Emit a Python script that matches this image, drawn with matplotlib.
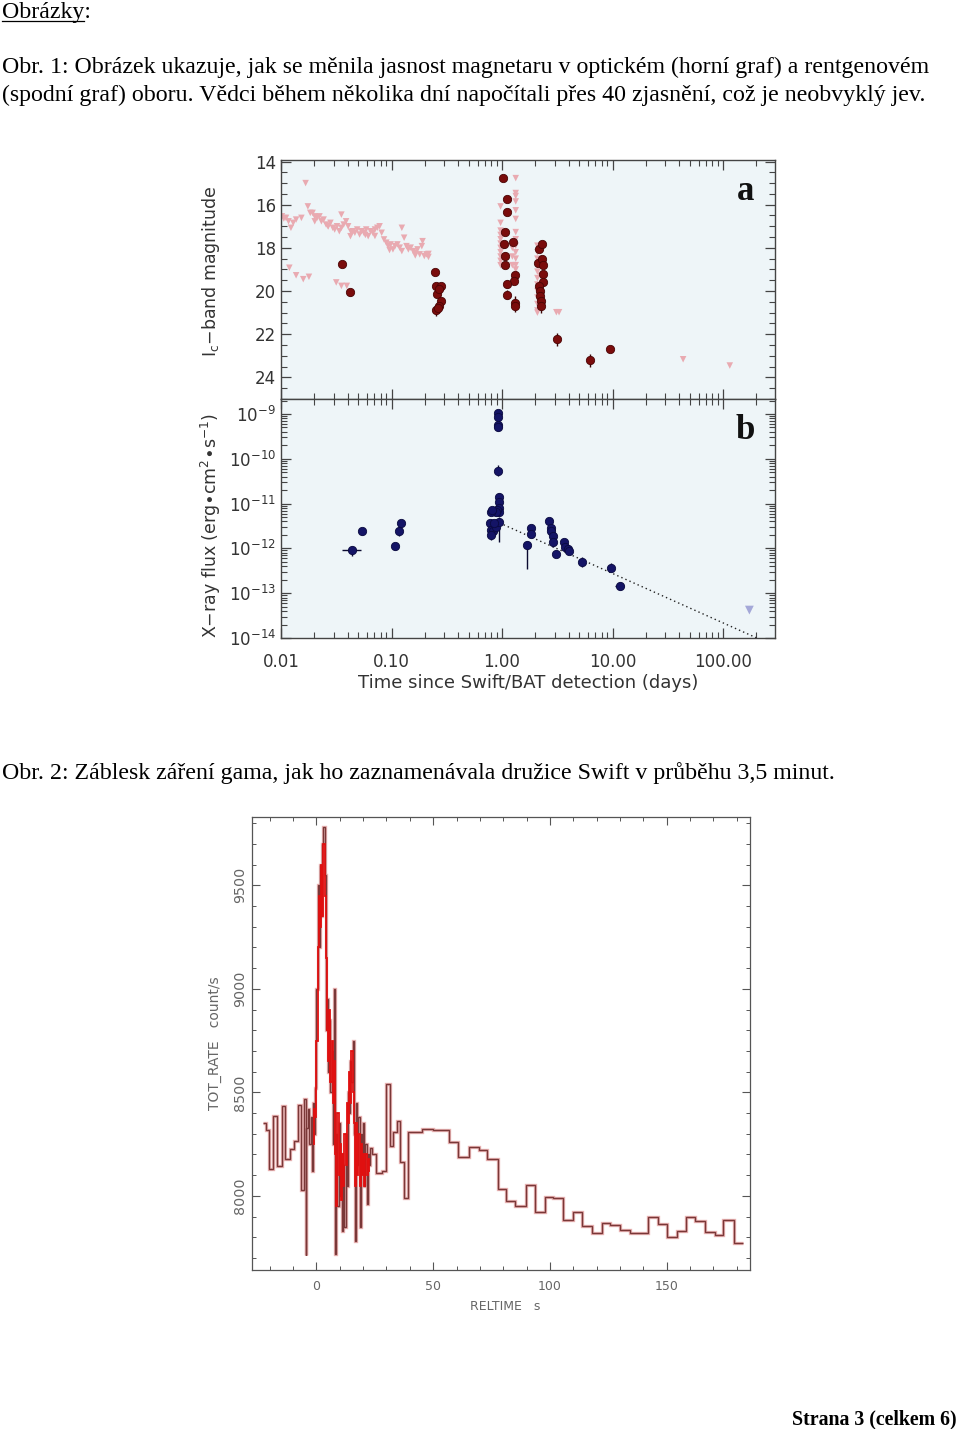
import matplotlib
matplotlib.use("Agg")
import matplotlib.pyplot as plt
import numpy as np
from matplotlib.lines import Line2D
from matplotlib.ticker import (LogLocator, FixedLocator, MultipleLocator,
                               NullFormatter, FixedFormatter)

# ---------------- DATA ----------------
# Panel a: optical detections (days, Ic magnitude, error)
det_t = [0.0357, 0.0417, 0.248, 0.252, 0.282, 0.260, 0.270, 0.282, 0.270, 0.252, 0.262,
         1.01, 1.12, 1.11, 1.06, 1.26, 1.05, 1.06, 1.06, 1.32, 1.29, 1.11, 1.11, 1.30, 1.30,
         2.16, 2.32, 2.13, 2.29, 2.33, 2.33, 2.35, 2.18, 2.22, 2.21, 2.25, 2.27,
         3.13, 6.21, 9.55]
det_mag = [18.74, 20.06, 19.14, 19.76, 19.78, 20.14, 19.90, 20.45, 20.68, 20.90, 20.80,
           14.77, 15.74, 16.35, 17.27, 17.73, 17.84, 18.38, 18.79, 19.26, 19.53, 19.68, 20.17, 20.55, 20.70,
           18.04, 17.81, 18.68, 18.50, 18.78, 19.22, 19.60, 19.76, 19.99, 20.22, 20.48, 20.70,
           22.24, 23.20, 22.68]
det_err = [0.12, 0.15, 0.12, 0.15, 0.12, 0.15, 0.15, 0.15, 0.15, 0.25, 0.2,
           0.1, 0.12, 0.12, 0.12, 0.12, 0.15, 0.2, 0.15, 0.15, 0.15, 0.2, 0.2, 0.3, 0.25,
           0.15, 0.12, 0.15, 0.12, 0.15, 0.15, 0.15, 0.15, 0.15, 0.2, 0.2, 0.3,
           0.3, 0.3, 0.1]

# Panel a: optical upper limits (days, magnitude)
lim_t = [0.0102, 0.0106, 0.0111, 0.0117, 0.0123, 0.0129, 0.0137, 0.0153, 0.0167, 0.0175,
         0.0184, 0.0193, 0.0202, 0.0212, 0.0223, 0.0232, 0.0243, 0.0256, 0.0267, 0.0280,
         0.0294, 0.0306, 0.0321, 0.0337, 0.0352, 0.0352, 0.0369, 0.0388, 0.0405, 0.0425,
         0.0447, 0.0466, 0.0489, 0.0514, 0.0535, 0.0562, 0.0590, 0.0615, 0.0646, 0.0678,
         0.0708, 0.0743, 0.0780, 0.0814, 0.0855, 0.0897, 0.0936, 0.0983, 0.1030, 0.1076,
         0.1130, 0.1186, 0.1240, 0.1300, 0.1365, 0.1420, 0.1490, 0.1570, 0.1640, 0.1720,
         0.1800, 0.1880, 0.1910, 0.1980, 0.2070, 0.2160,
         0.0202, 0.0267, 0.0430, 0.0580, 0.0708, 0.0960, 0.1240, 0.1640, 0.2160,
         0.0119, 0.0137, 0.0159, 0.0179, 0.0316, 0.0352, 0.0394,
         0.97, 0.97, 0.97, 0.97, 0.97, 0.97, 0.97, 0.97, 0.97, 0.97, 0.97,
         1.33, 1.33, 1.33, 1.33, 1.33, 1.33, 1.33, 1.33, 1.33, 1.33, 1.33, 1.33, 1.33,
         1.24, 1.24, 1.24,
         2.09, 2.09, 2.09, 2.09, 2.09, 2.09, 2.09, 2.09, 2.09, 2.09, 2.09, 2.09,
         2.24, 2.24, 2.24, 2.24, 2.24,
         3.10, 3.28, 43.5, 115.0]
lim_mag = [16.54, 16.64, 16.61, 16.77, 17.07, 16.84, 16.69, 16.61, 15.00, 16.08,
           16.38, 16.38, 16.54, 16.61, 16.54, 16.77, 16.69, 16.92, 17.00, 16.84,
           17.07, 17.15, 17.00, 17.23, 16.46, 17.07, 16.92, 16.77, 17.00, 17.46,
           17.23, 17.30, 17.15, 17.38, 17.23, 17.30, 17.15, 17.46, 17.23, 17.30,
           17.15, 17.07, 17.00, 17.30, 17.61, 17.76, 17.92, 17.84, 18.07, 17.92,
           17.84, 17.99, 17.07, 17.53, 17.92, 18.07, 17.99, 18.15, 18.22, 18.07,
           18.30, 17.92, 17.69, 18.38, 18.30, 18.42,
           16.77, 17.00, 17.25, 17.40, 17.45, 18.10, 18.15, 18.35, 18.28,
           18.92, 19.27, 19.45, 19.34, 19.60, 19.76, 19.76,
           16.08, 16.84, 17.20, 17.40, 17.60, 17.80, 18.00, 18.20, 18.40, 18.60, 18.80,
           14.77, 15.46, 15.60, 15.85, 16.26, 16.66, 17.27, 17.60, 17.90, 18.20, 18.50, 18.80, 19.00,
           18.00, 18.40, 18.80,
           17.90, 18.20, 18.50, 18.80, 19.10, 19.40, 19.70, 20.00, 20.30, 20.60, 20.90, 21.00,
           18.10, 18.70, 19.30, 19.90, 20.50,
           20.98, 20.98, 23.16, 23.45]

# Panel b: X-ray flux (days, erg cm^-2 s^-1, error in dex below / above)
xr_t = [0.0435, 0.0543, 0.1076, 0.117, 0.1227,
        0.916, 0.916, 0.916, 0.916, 0.922, 0.929, 0.935, 0.929, 0.942, 0.904, 0.873, 0.798,
        0.774, 0.798, 0.832, 0.798, 0.890, 0.935, 0.850, 0.812,
        1.69, 1.82, 1.82, 2.68, 2.76, 2.76, 2.92, 2.88, 3.09, 3.60, 3.73, 3.92, 4.06,
        5.25, 9.69, 11.6]
xr_f = [9.0e-13, 2.45e-12, 1.12e-12, 2.45e-12, 3.6e-12,
        1.05e-9, 8.7e-10, 5.7e-10, 5.0e-10, 5.4e-11, 1.4e-11, 1.07e-11, 8.1e-12, 6.5e-12, 7.2e-12, 6.6e-12, 6.6e-12,
        3.6e-12, 2.6e-12, 2.4e-12, 2.0e-12, 3.0e-12, 3.9e-12, 3.6e-12, 7.2e-12,
        1.17e-12, 2.8e-12, 2.1e-12, 4.0e-12, 2.8e-12, 2.4e-12, 1.86e-12, 1.38e-12, 7.6e-13, 1.38e-12, 1.07e-12, 9.5e-13, 8.7e-13,
        5.1e-13, 3.7e-13, 1.48e-13]
xr_dlo = [0.12, 0.08, 0.08, 0.12, 0.1,
          0.05, 0.05, 0.08, 0.08, 0.12, 0.12, 0.08, 0.08, 0.1, 0.08, 0.1, 0.08,
          0.08, 0.1, 0.1, 0.12, 0.08, 0.45, 0.1, 0.08,
          0.52, 0.08, 0.08, 0.06, 0.08, 0.08, 0.12, 0.1, 0.08, 0.06, 0.06, 0.06, 0.06,
          0.12, 0.1, 0.1]
xr_dhi = [0.1, 0.07, 0.07, 0.1, 0.08,
          0.04, 0.04, 0.06, 0.06, 0.12, 0.1, 0.06, 0.06, 0.08, 0.06, 0.08, 0.06,
          0.06, 0.08, 0.08, 0.08, 0.06, 0.1, 0.08, 0.06,
          0.1, 0.06, 0.06, 0.05, 0.06, 0.06, 0.1, 0.08, 0.08, 0.05, 0.05, 0.05, 0.05,
          0.1, 0.1, 0.08]
xr_tlo = [0.036, None, None, None, None] + [None] * 35 + [10.6]
xr_thi = [0.0525, None, None, None, None] + [None] * 35 + [12.8]
xr_lim_t = [173.0]
xr_lim_f = [4.2e-14]
decay_t = [0.95, 202.0]
decay_f = [3.7e-12, 1.0e-14]

# Panel 2: Swift/BAT light curve (s, count/s)
bat_edges = [-23.1, -21.4, -20.3, -18.6, -16.9, -14.7, -13.3, -11.4, -9.5, -8.1, -6.4, -5.4,
             -4.6, -4.3, -3.5, -3.0, -2.5, -2.0, -1.5, -1.0, -0.5, 0.0, 0.5, 1.0, 1.5, 2.0,
             2.5, 3.0, 3.5, 4.0, 4.5, 5.0, 5.5, 6.0, 6.5, 7.0, 7.5, 8.0, 8.5, 9.0, 9.5, 10.0,
             10.5, 11.0, 11.5, 12.0, 12.5, 13.0, 13.5, 14.0, 14.5, 15.0, 15.5, 16.0, 16.5,
             17.0, 17.5, 18.0, 18.5, 19.0, 19.5, 20.0, 20.5, 21.0, 21.5, 22.0, 22.5, 23.0,
             24.0, 25.7, 27.9, 30.0, 31.4, 33.0, 34.3, 35.7, 37.4, 39.3, 45.0, 50.0, 56.85,
             60.7, 65.4, 69.7, 72.85, 77.9, 81.4, 85.0, 89.6, 93.6, 97.9, 101.4, 105.7,
             110.0, 113.6, 117.9, 122.1, 125.7, 130.0, 134.3, 142.2, 146.4, 150.3, 154.3,
             158.3, 162.1, 166.4, 170.7, 174.3, 178.9, 182.9]
bat_rate = [8350, 8320, 8130, 8385, 8145, 8435, 8180, 8225, 8265, 8440, 8026,
            8470, 7715, 8330, 8420, 8250, 8380, 8120, 8450, 8300, 8520,
            9000, 9500, 9200, 9600, 9350, 9700, 9780, 9550, 8800, 8950,
            8600, 8850, 8500, 8700, 8250, 9000, 7720, 8300, 7950, 8350,
            8000, 8200, 7830, 8150, 7850, 8300, 8050, 8500, 8400, 8650,
            8550, 8750, 8300, 7780, 8450, 8150, 8380, 7850, 8300, 8200,
            8350, 8050, 8250, 7960, 8200, 8150, 8230, 8200, 8110, 8120,
            8540, 8240, 8310, 8360, 8165, 7990, 8309, 8325, 8317, 8262,
            8190, 8238, 8220, 8180, 8032, 7976, 7950, 8052, 7923, 7995,
            7992, 7883, 7923, 7854, 7819, 7870, 7859, 7837, 7819, 7896,
            7866, 7799, 7831, 7896, 7880, 7825, 7812, 7883, 7770]
red_edges = [-1.5, -1.0, -0.5, 0.0, 0.5, 1.0, 1.5, 2.0, 2.5, 3.0, 3.5, 4.0, 4.5, 5.0,
             5.5, 6.0, 6.5, 7.0, 7.5, 8.0, 8.5, 9.0, 9.5, 10.0, 10.5, 11.0, 11.5, 12.0,
             12.5, 13.0, 13.5, 14.0, 14.5, 15.0, 15.5, 16.0, 16.5, 17.0, 17.5, 18.0,
             18.5, 19.0, 19.5, 20.0, 20.5, 21.0, 21.5, 22.0, 22.5, 23.0]
red_rate = [8250, 8420, 8380, 8750, 9200, 9450, 9300, 9600, 9350, 9700, 9450, 9150,
            8800, 8650, 8900, 8550, 8750, 8450, 8650, 8200, 7950, 8400, 8100, 8250,
            7980, 8200, 8050, 8300, 8150, 8450, 8350, 8600, 8450, 8700, 8500, 8350,
            8050, 8350, 8100, 8300, 8050, 8250, 8100, 8200, 8050, 8200, 8100, 8180, 8120]

# ---------------- FIGURE ----------------
W, H = 960, 1429
fig = plt.figure(figsize=(9.6, 14.29), dpi=100)
fig.patch.set_facecolor("white")


def ax_px(l, t, r, b):
    return fig.add_axes([l / W, 1 - b / H, (r - l) / W, (b - t) / H])


def ftext(x, y, s, **kw):
    return fig.text(x / W, 1 - y / H, s, **kw)


serif = "Liberation Serif"
fs_body = 17.2
ftext(2, 18, "Obrázky:", family=serif, fontsize=fs_body, va="baseline")
fig.add_artist(Line2D([2 / W, 84 / W], [1 - 21 / H, 1 - 21 / H], color="black", lw=0.9))
ftext(2, 73, "Obr. 1: Obrázek ukazuje, jak se měnila jasnost magnetaru v optickém (horní graf) a rentgenovém",
      family=serif, fontsize=fs_body, va="baseline")
ftext(2, 101, "(spodní graf) oboru. Vědci během několika dní napočítali přes 40 zjasnění, což je neobvyklý jev.",
      family=serif, fontsize=fs_body, va="baseline")
ftext(2, 779, "Obr. 2: Záblesk záření gama, jak ho zaznamenávala družice Swift v průběhu 3,5 minut.",
      family=serif, fontsize=fs_body, va="baseline")
ftext(957, 1424, "Strana 3 (celkem 6)", family=serif, fontsize=14.3, fontweight="bold",
      va="baseline", ha="right")

bg = "#eef5f8"
frame = "#444444"
lab_col = "#333333"

# ---- Panels a and b ----
axa = ax_px(281, 160, 775, 399)
axb = ax_px(281, 399, 775, 638)
for ax in (axa, axb):
    ax.set_facecolor(bg)
    ax.set_xscale("log")
    ax.set_xlim(0.01, 295)
    for s in ax.spines.values():
        s.set_color(frame)
        s.set_linewidth(1.0)
    ax.tick_params(which="both", direction="in", top=True, right=True, colors=frame,
                   labelcolor=lab_col, labelsize=12)
    ax.tick_params(which="major", length=7, width=0.9)
    ax.tick_params(which="minor", length=4, width=0.8)
    ax.xaxis.set_major_locator(LogLocator(base=10, numticks=10))
    ax.xaxis.set_minor_locator(LogLocator(base=10, subs=np.arange(2, 10), numticks=10))

axa.scatter(lim_t, lim_mag, marker="v", s=22, color="#e9aab1", edgecolors="none", zorder=2)
axa.errorbar(det_t, det_mag, yerr=det_err, fmt="o", ms=6, color="#7a0c0c",
             mec="#4a0505", mew=0.6, ecolor="#3a0505", elinewidth=1.0, capsize=0, zorder=3)
axa.set_ylim(25.0, 13.93)
axa.yaxis.set_major_locator(FixedLocator([14, 16, 18, 20, 22, 24]))
axa.yaxis.set_minor_locator(MultipleLocator(0.5))
axa.xaxis.set_major_formatter(NullFormatter())
axa.xaxis.set_minor_formatter(NullFormatter())
axa.set_ylabel(r"I$_\mathregular{c}$$-$band magnitude", fontsize=12.5, color=lab_col)
axa.yaxis.set_label_coords(-0.12, 0.535)
axa.text(0.94, 0.87, "a", transform=axa.transAxes, family=serif, fontweight="bold",
         fontsize=25, ha="center", va="center", color="#111111")

for i in range(len(xr_t)):
    f = xr_f[i]
    yerr = [[f - f * 10 ** (-xr_dlo[i])], [f * 10 ** xr_dhi[i] - f]]
    xerr = None
    if xr_tlo[i] is not None:
        xerr = [[xr_t[i] - xr_tlo[i]], [xr_thi[i] - xr_t[i]]]
    axb.errorbar([xr_t[i]], [f], yerr=yerr, xerr=xerr, fmt="o", ms=6, color="#141466",
                 mec="#0a0a40", mew=0.6, ecolor="#0a0a30", elinewidth=1.0, capsize=0, zorder=3)
axb.plot(decay_t, decay_f, ls=(0, (1, 2.2)), color="#222222", lw=1.0, zorder=2)
axb.scatter(xr_lim_t, xr_lim_f, marker="v", s=40, color="#a4a8d8", edgecolors="none", zorder=3)
axb.set_yscale("log")
axb.set_ylim(1e-14, 10 ** -8.665)
axb.yaxis.set_major_locator(FixedLocator([1e-14, 1e-13, 1e-12, 1e-11, 1e-10, 1e-9]))
axb.yaxis.set_minor_locator(LogLocator(base=10, subs=np.arange(2, 10), numticks=12))
axb.yaxis.set_minor_formatter(NullFormatter())
xt = [0.01, 0.1, 1, 10, 100]
axb.xaxis.set_major_locator(FixedLocator(xt))
axb.xaxis.set_major_formatter(FixedFormatter(["0.01", "0.10", "1.00", "10.00", "100.00"]))
axb.xaxis.set_minor_formatter(NullFormatter())
axb.tick_params(axis="x", which="major", pad=11)
axb.set_xlabel("Time since Swift/BAT detection (days)", fontsize=13, color=lab_col)
axb.xaxis.set_label_coords(0.5, -0.15)
axb.set_ylabel(r"X$-$ray flux (erg$\bullet$cm$^2$$\bullet$s$^{-1}$)", fontsize=12.5, color=lab_col)
axb.yaxis.set_label_coords(-0.118, 0.47)
axb.text(0.94, 0.87, "b", transform=axb.transAxes, family=serif, fontweight="bold",
         fontsize=25, ha="center", va="center", color="#111111")

# ---- Bottom chart: BAT light curve ----
axc = ax_px(252, 817, 750, 1270)
axc.set_facecolor("white")
axc.stairs(bat_rate, bat_edges, baseline=None, color="#e8b2b2", lw=2.4, zorder=1)
axc.stairs(bat_rate, bat_edges, baseline=None, color="#7a3838", lw=1.0, zorder=2)
axc.stairs(red_rate, red_edges, baseline=None, color="#e01010", lw=1.3, zorder=3)
axc.set_xlim(-27.6, 185.7)
axc.set_ylim(7642, 9830)
for s in axc.spines.values():
    s.set_color("#555555")
    s.set_linewidth(0.9)
axc.xaxis.set_major_locator(FixedLocator([0, 50, 100, 150]))
axc.xaxis.set_minor_locator(MultipleLocator(10))
axc.yaxis.set_major_locator(FixedLocator([8000, 8500, 9000, 9500]))
axc.yaxis.set_minor_locator(MultipleLocator(100))
axc.tick_params(which="both", direction="in", top=True, right=True, colors="#555555",
                labelcolor="#666666", labelsize=9)
axc.tick_params(axis="y", labelsize=10.3)
axc.tick_params(which="major", length=6, width=0.8)
axc.tick_params(which="minor", length=3, width=0.7)
axc.tick_params(axis="x", pad=7)
for lbl in axc.get_yticklabels():
    lbl.set_rotation(90)
    lbl.set_va("center")
axc.set_xlabel("RELTIME   s", fontsize=9, color="#666666")
axc.xaxis.set_label_coords((505 - 252) / 498, -(1300 - 1270) / 453)
axc.set_ylabel("TOT_RATE   count/s", fontsize=10, color="#666666")
axc.yaxis.set_label_coords((222 - 252) / 498, 0.5)

fig.savefig("out.png", dpi=100, facecolor="white")
